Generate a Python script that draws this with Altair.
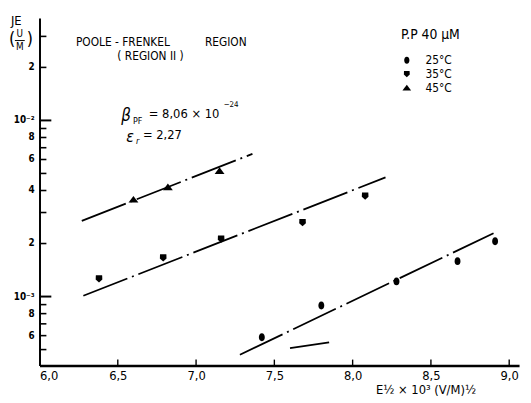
import altair as alt
import pandas as pd

FONT = "Liberation Sans Narrow, DejaVu Sans Condensed, DejaVu Sans, sans-serif"

# ---- data ----
series_names = ["25°C", "35°C", "45°C"]

x25 = [7.42, 7.80, 8.28, 8.67, 8.91]
y25 = [5.87e-4, 8.90e-4, 1.22e-3, 1.59e-3, 2.06e-3]

x35 = [6.38, 6.79, 7.16, 7.68, 8.08]
y35 = [1.26e-3, 1.66e-3, 2.12e-3, 2.63e-3, 3.72e-3]

x45 = [6.60, 6.82, 7.15]
y45 = [3.56e-3, 4.18e-3, 5.18e-3]

# fitted dash-dot lines (end points)
fit25_x = [7.28, 8.90]
fit25_y = [4.67e-4, 2.29e-3]
fit35_x = [6.28, 8.21]
fit35_y = [1.01e-3, 4.75e-3]
fit45_x = [6.27, 7.36]
fit45_y = [2.69e-3, 6.46e-3]
stray_x = [7.60, 7.85]
stray_y = [5.09e-4, 5.49e-4]

x_label_values = [6.0, 6.5, 7.0, 7.5, 8.0, 8.5, 9.0]
x_tick_values = [6.5, 7.0, 7.5, 8.0, 8.5, 9.0]

y_major_ticks = [1e-3, 1e-2]
y_minor_ticks = [5e-4, 6e-4, 7e-4, 8e-4, 9e-4, 3e-3, 2e-3, 4e-3, 5e-3, 6e-3,
                 7e-3, 8e-3, 9e-3, 2e-2, 3e-2]
y_label_values = [6e-4, 8e-4, 1e-3, 2e-3, 4e-3, 6e-3, 8e-3, 1e-2, 2e-2]
y_label_texts = ["6", "8", "10⁻³", "2", "4", "6", "8", "10⁻²", "2"]

# ---- tables ----
pts = pd.DataFrame({
    "x": x25 + x35 + x45,
    "y": y25 + y35 + y45,
    "series": [series_names[0]] * len(x25) + [series_names[1]] * len(x35)
              + [series_names[2]] * len(x45),
})
fits = pd.DataFrame({
    "x": fit25_x + fit35_x + fit45_x + stray_x,
    "y": fit25_y + fit35_y + fit45_y + stray_y,
    "line": ["a"] * 2 + ["b"] * 2 + ["c"] * 2 + ["d"] * 2,
})
ymaj = pd.DataFrame({"v": y_major_ticks})
ymin = pd.DataFrame({"v": y_minor_ticks})
ylab = pd.DataFrame({"v": y_label_values, "t": y_label_texts})
xt = pd.DataFrame({"v": x_tick_values})

W, H = 487, 353
xs = alt.Scale(domain=[6.0, 9.063], nice=False, zero=False)
ys = alt.Scale(type="log", domain=[4.06e-4, 3.82e-2], nice=False)

xaxis = alt.Axis(values=x_label_values, ticks=False, grid=False,
                 labelExpr="replace(format(datum.value, '.1f'), '.', ',')",
                 labelFont=FONT, labelFontSize=13, labelColor="black",
                 labelPadding=4, labelFlush=True,
                 domainColor="black", domainWidth=2.5,
                 title="E½ × 10³ (V/M)½", titleFont=FONT, titleFontSize=13,
                 titleFontWeight="normal", titleColor="black",
                 titleX=392, titleY=28, titleBaseline="alphabetic")
yaxis = alt.Axis(labels=False, ticks=False, grid=False, title=None,
                 domainColor="black", domainWidth=2)

ellipse = "M0,-1C1,-1 1,1 0,1C-1,1 -1,-1 0,-1Z"
shield = "M-0.8,-0.9L0.8,-0.9L0.85,0.15L0,0.95L-0.85,0.15Z"
triangle = "M0,-0.9L1.25,0.8L-1.25,0.8Z"

points = alt.Chart(pts).mark_point(filled=True, opacity=1, color="black",
                                   size=64).encode(
    x=alt.X("x:Q", scale=xs, axis=xaxis),
    y=alt.Y("y:Q", scale=ys, axis=yaxis),
    shape=alt.Shape("series:N",
                    scale=alt.Scale(domain=series_names,
                                    range=[ellipse, shield, triangle]),
                    legend=alt.Legend(title="P.P  40  µM", orient="none",
                                      legendX=367, legendY=10,
                                      titleFont=FONT, titleFontSize=14,
                                      titleFontWeight="normal", titleColor="black",
                                      titlePadding=13,
                                      labelFont=FONT, labelFontSize=12,
                                      labelColor="black", labelOffset=13,
                                      symbolSize=50, symbolFillColor="black",
                                      symbolStrokeColor="black",
                                      symbolStrokeWidth=0, rowPadding=2)),
)

lines = alt.Chart(fits).mark_line(color="black", strokeWidth=1.8,
                                  strokeDash=[48, 5, 2, 5]).encode(
    x=alt.X("x:Q", scale=xs, axis=xaxis),
    y=alt.Y("y:Q", scale=ys, axis=yaxis),
    detail="line:N",
)

maj = alt.Chart(ymaj).mark_rule(color="black", strokeWidth=2).encode(
    x=alt.value(0), x2=alt.value(12), y=alt.Y("v:Q", scale=ys, axis=yaxis))
mino = alt.Chart(ymin).mark_rule(color="black", strokeWidth=1.6).encode(
    x=alt.value(0), x2=alt.value(7), y=alt.Y("v:Q", scale=ys, axis=yaxis))
ylabels = alt.Chart(ylab).mark_text(font=FONT, fontSize=10, fontWeight="bold",
                                    align="right", baseline="middle",
                                    color="black").encode(
    x=alt.value(-5), y=alt.Y("v:Q", scale=ys, axis=yaxis), text="t:N")
xticks = alt.Chart(xt).mark_rule(color="black", strokeWidth=1.4).encode(
    x=alt.X("v:Q", scale=xs, axis=xaxis), y=alt.value(H), y2=alt.value(H - 6))


def txt(s, x, y, size=13, italic=False, align="left"):
    kw = dict(text=s, font=FONT, fontSize=size, align=align,
              baseline="middle", color="black")
    if italic:
        kw["fontStyle"] = "italic"
    return alt.Chart(alt.Data(values=[{}])).mark_text(**kw).encode(
        x=alt.value(x), y=alt.value(y))


annos = [
    txt("POOLE - FRENKEL", 37, 25, 12),
    txt("REGION", 168, 25, 12),
    txt("( REGION  II )", 79, 39, 12),
    txt("β", 83, 100, 17, True),
    txt("PF", 95, 105, 9),
    txt("= 8,06 × 10", 111, 98),
    txt("−24", 187, 88, 8),
    txt("ε", 88, 121, 16, True),
    txt("r", 98, 125, 9, True),
    txt("= 2,27", 105, 119),
    txt("JE", -29, 3, 13),
    txt("(", -31, 23, 18),
    txt("U", -20, 16, 10, align="center"),
    txt("M", -20, 30, 10, align="center"),
    txt(")", -13, 23, 18),
]
bar = alt.Chart(alt.Data(values=[{}])).mark_rule(color="black", strokeWidth=1).encode(
    x=alt.value(-25), x2=alt.value(-15), y=alt.value(23))

chart = alt.layer(lines, points, maj, mino, ylabels, xticks, bar, *annos).properties(
    width=W, height=H,
    padding={"left": 32, "top": 7, "right": 4, "bottom": 34},
    autosize=alt.AutoSizeParams(type="none"),
    background="white",
).configure_view(stroke=None)

chart.save("out.html", embed_options={"renderer": "svg", "actions": False})
